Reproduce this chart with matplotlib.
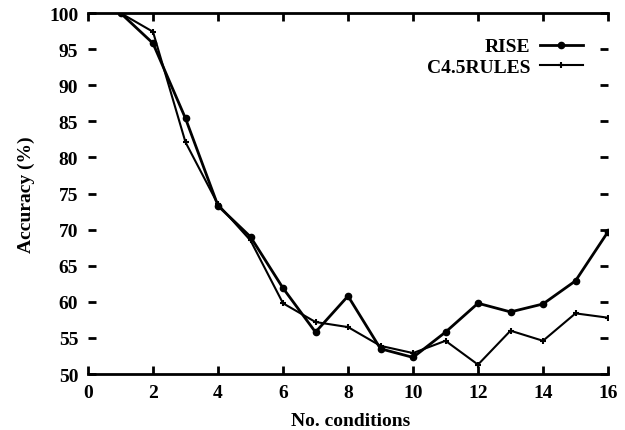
import matplotlib
matplotlib.use("Agg")
import matplotlib.pyplot as plt

conditions = list(range(1, 17))
rise = [100, 95.8, 85.4, 73.3, 69.0, 61.9, 55.8, 60.8, 53.5, 52.3, 55.8, 59.8, 58.6, 59.7, 62.9, 69.7]
c45rules = [100, 97.4, 82.1, 73.5, 68.5, 59.8, 57.2, 56.5, 53.9, 52.9, 54.6, 51.3, 56.0, 54.6, 58.4, 57.8]
xticks = list(range(0, 17, 2))
yticks = list(range(50, 101, 5))

plt.rcParams['font.family'] = ['Liberation Serif', 'DejaVu Serif']
plt.rcParams['font.weight'] = 'bold'

fig = plt.figure(figsize=(6.25, 4.31), dpi=100)
ax = fig.add_axes([0.1408, 0.1299, 0.8320, 0.8376])

ax.plot(conditions, rise, color='black', lw=2.0, marker='o', ms=4.5, label='RISE')
ax.plot(conditions, c45rules, color='black', lw=1.5, marker='+', ms=4, mew=1.5, label='C4.5RULES')

ax.set_xlim(0, 16)
ax.set_ylim(50, 100)
ax.set_xticks(xticks)
ax.set_yticks(yticks)
ax.spines['left'].set_visible(False)
ax.spines['right'].set_visible(False)
ax.spines['top'].set_linewidth(2)
ax.spines['bottom'].set_linewidth(2)
ax.tick_params(axis='both', direction='in', width=2, length=6, labelsize=14)
ax.tick_params(axis='y', right=True, left=True, pad=7)
ax.tick_params(axis='x', top=True, bottom=True, pad=7)
for lab in ax.get_xticklabels() + ax.get_yticklabels():
    lab.set_fontweight('bold')

ax.set_xlabel('No. conditions', fontsize=14, fontweight='bold')
ax.set_ylabel('Accuracy (%)', fontsize=14, fontweight='bold', labelpad=10)
ax.xaxis.set_label_coords(0.505, -0.105)

leg = ax.legend(loc='upper right', bbox_to_anchor=(0.985, 0.98), frameon=False,
                markerfirst=False, fontsize=14, handlelength=2.2, labelspacing=0.15,
                handletextpad=0.5)
for t in leg.get_texts():
    t.set_fontweight('bold')

fig.savefig('out.png', dpi=100)
